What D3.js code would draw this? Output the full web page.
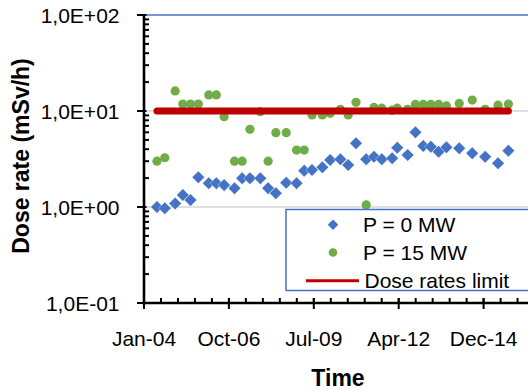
<!DOCTYPE html>
<html>
<head>
<meta charset="utf-8">
<script src="https://cdn.jsdelivr.net/npm/d3@7"></script>
<style>
  body { margin: 0; background: #fff; }
  svg { display: block; font-family: "Liberation Sans", Arial, sans-serif; }
</style>
</head>
<body>
<svg id="chart" width="528" height="391"></svg>
<script>
// measurement dates (shared by both series)
const dates = [
  "2004-06-15", "2004-09-15", "2005-01-15", "2005-04-15", "2005-07-15", "2005-10-15",
  "2006-02-15", "2006-05-15", "2006-08-15", "2006-12-15", "2007-03-15", "2007-06-15",
  "2007-10-15", "2008-01-15", "2008-04-15", "2008-08-15", "2008-12-15", "2009-03-15",
  "2009-06-15", "2009-10-15", "2010-01-15", "2010-05-15", "2010-08-15", "2010-11-15",
  "2011-03-15", "2011-06-15", "2011-09-15", "2012-01-15", "2012-03-15", "2012-07-15",
  "2012-10-15", "2013-01-15", "2013-04-15", "2013-07-15", "2013-10-15", "2014-03-15",
  "2014-08-15", "2015-01-15", "2015-06-15", "2015-10-15"
];
// dose rate, mSv/h
const p0MW = [
  1.0, 0.97, 1.09, 1.33, 1.18, 2.04, 1.77, 1.77, 1.69, 1.57,
  1.99, 1.99, 1.99, 1.57, 1.39, 1.79, 1.77, 2.39, 2.43, 2.59,
  3.09, 3.14, 2.74, 4.61, 3.14, 3.34, 3.14, 3.22, 4.15, 3.48,
  6.0, 4.32, 4.25, 3.77, 4.19, 4.09, 3.63, 3.34, 2.85, 3.86
];
const p15MW = [
  3.0, 3.26, 16.2, 11.8, 11.8, 11.8, 14.7, 14.7, 8.72, 3.0,
  3.0, 6.45, 9.84, 3.0, 5.94, 5.94, 3.92, 3.92, 9.08, 9.08,
  9.46, 10.4, 9.08, 12.3, 1.05, 10.9, 10.7, 10.2, 10.7, 10.4,
  11.7, 11.7, 11.7, 11.7, 11.3, 12.0, 13.0, 10.4, 11.5, 11.8
];
const doseLimit = 10;

const yTicks = [0.1, 1, 10, 100];
const xTickStart = "2004-01-14";
const xTickLabels = ["Jan-04", "Oct-06", "Jul-09", "Apr-12", "Dec-14"];
const seriesNames = ["P = 0 MW", "P = 15 MW", "Dose rates limit"];

const blue = "#4472C4", green = "#70AD47", red = "#C00000";
const parse = d3.timeParse("%Y-%m-%d");
const svg = d3.select("#chart");

const plotLeft = 144, plotTop = 15, plotBottom = 303, plotRight = 528;
const x0 = parse(xTickStart);
const x = d3.scaleTime()
  .domain([x0, d3.timeDay.offset(x0, 5000)])
  .range([plotLeft, plotLeft + 5 * 84.9]);
const y = d3.scaleLog().domain([0.1, 100]).range([plotBottom, plotTop]);

const majorX = xTickLabels.map((_, i) => d3.timeDay.offset(x0, i * 1000));
const minorX = d3.range(0, 26).map(i => d3.timeDay.offset(x0, i * 200))
  .filter(d => x(d) <= plotRight);
const minorY = y.ticks().filter(v => !yTicks.some(t => Math.abs(t - v) < 1e-9));

// gridlines
svg.append("g").selectAll("line")
  .data([1, 10])
  .join("line")
  .attr("x1", plotLeft).attr("x2", plotRight)
  .attr("y1", d => y(d)).attr("y2", d => y(d))
  .attr("stroke", "#bfbfbf").attr("stroke-width", 1.2);
svg.append("line")
  .attr("x1", plotLeft).attr("x2", plotRight)
  .attr("y1", y(100)).attr("y2", y(100))
  .attr("stroke", blue).attr("stroke-width", 1.5);

// series
const pts = dates.map((d, i) => ({ date: parse(d), p0: p0MW[i], p15: p15MW[i] }));

svg.append("g").selectAll("path")
  .data(pts)
  .join("path")
  .attr("d", d3.symbol(d3.symbolDiamond2, 100))
  .attr("transform", d => `translate(${x(d.date)},${y(d.p0)})`)
  .attr("fill", blue)
  .attr("stroke", "#fff").attr("stroke-width", 0.4);

svg.append("g").selectAll("circle")
  .data(pts)
  .join("circle")
  .attr("cx", d => x(d.date))
  .attr("cy", d => y(d.p15))
  .attr("r", 4.6)
  .attr("fill", green);

const limitLine = d3.line().x(d => x(d.date)).y(() => y(doseLimit));
svg.append("path")
  .attr("d", limitLine([pts[0], pts[pts.length - 1]]))
  .attr("stroke", red).attr("stroke-width", 7)
  .attr("stroke-linecap", "round").attr("fill", "none");

// axes
const axisG = svg.append("g").attr("stroke", "#000");
axisG.append("line")
  .attr("x1", plotLeft).attr("x2", plotLeft).attr("y1", plotTop - 1).attr("y2", plotBottom + 1.5)
  .attr("stroke-width", 2.6);
axisG.append("line")
  .attr("x1", plotLeft - 1.3).attr("x2", plotRight).attr("y1", plotBottom).attr("y2", plotBottom)
  .attr("stroke-width", 2.6);
axisG.selectAll(".ymaj").data(yTicks).join("line")
  .attr("x1", plotLeft - 7).attr("x2", plotLeft + 2.5)
  .attr("y1", d => y(d)).attr("y2", d => y(d)).attr("stroke-width", 2);
axisG.selectAll(".ymin").data(minorY).join("line")
  .attr("x1", plotLeft).attr("x2", plotLeft + 5)
  .attr("y1", d => y(d)).attr("y2", d => y(d)).attr("stroke-width", 2);
axisG.selectAll(".xmaj").data(majorX).join("line")
  .attr("x1", d => x(d)).attr("x2", d => x(d))
  .attr("y1", plotBottom - 5).attr("y2", plotBottom + 6).attr("stroke-width", 2);
axisG.selectAll(".xmin").data(minorX).join("line")
  .attr("x1", d => x(d)).attr("x2", d => x(d))
  .attr("y1", plotBottom - 5).attr("y2", plotBottom).attr("stroke-width", 2);

const fmtSci = v => {
  const e = Math.round(Math.log10(v));
  const m = (v / Math.pow(10, e)).toFixed(1).replace(".", ",");
  return m + "E" + (e < 0 ? "-" : "+") + String(Math.abs(e)).padStart(2, "0");
};

svg.append("g").selectAll("text")
  .data(yTicks)
  .join("text")
  .attr("x", 119.5)
  .attr("y", d => y(d))
  .attr("dy", "0.36em")
  .attr("text-anchor", "end")
  .attr("font-size", 21)
  .text(fmtSci);

svg.append("g").selectAll("text")
  .data(majorX)
  .join("text")
  .attr("x", d => x(d))
  .attr("y", 345.5)
  .attr("text-anchor", "middle")
  .attr("font-size", 21)
  .text((d, i) => xTickLabels[i]);

svg.append("text")
  .attr("x", 338).attr("y", 386)
  .attr("text-anchor", "middle")
  .attr("font-size", 23).attr("font-weight", "bold")
  .text("Time");

svg.append("text")
  .attr("transform", "translate(29,156) rotate(-90)")
  .attr("text-anchor", "middle")
  .attr("font-size", 23).attr("font-weight", "bold")
  .text("Dose rate (mSv/h)");

// legend
const lg = svg.append("g");
lg.append("rect")
  .attr("x", 286).attr("y", 209.5).attr("width", 260).attr("height", 81)
  .attr("fill", "#fff").attr("stroke", blue).attr("stroke-width", 1.5);
lg.append("path")
  .attr("d", d3.symbol(d3.symbolDiamond2, 70))
  .attr("transform", "translate(333,224.7)")
  .attr("fill", blue);
lg.append("circle")
  .attr("cx", 333).attr("cy", 252.5).attr("r", 4.3).attr("fill", green);
lg.append("line")
  .attr("x1", 306).attr("x2", 359).attr("y1", 280.7).attr("y2", 280.7)
  .attr("stroke", red).attr("stroke-width", 3);
lg.selectAll("text")
  .data(seriesNames)
  .join("text")
  .attr("x", (d, i) => i < 2 ? 363 : 364.5)
  .attr("y", (d, i) => [224.7, 252.5, 280.7][i])
  .attr("dy", "0.36em")
  .attr("font-size", 21)
  .text(d => d);
</script>
</body>
</html>
